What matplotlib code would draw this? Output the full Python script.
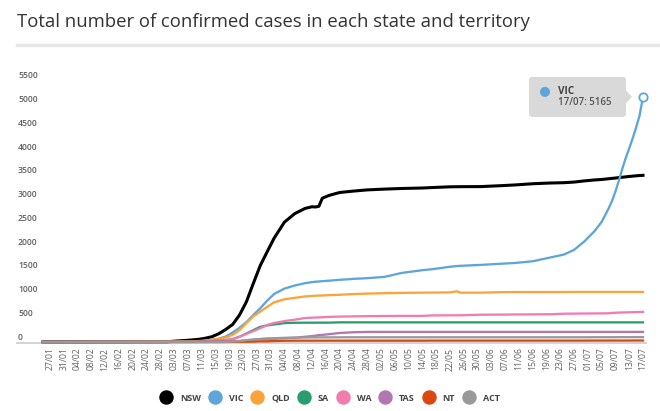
import matplotlib
matplotlib.use('Agg')
import matplotlib.pyplot as plt
import matplotlib.transforms as mtransforms
from matplotlib.lines import Line2D
from matplotlib.patches import FancyBboxPatch, Polygon, Circle
import pandas as pd

plt.rcParams['font.family'] = ['Open Sans', 'DejaVu Sans']

# Dados
datas = ['25/01', '01/03', '04/03', '07/03', '10/03', '12/03', '14/03', '16/03', '18/03', '20/03',
         '22/03', '24/03', '26/03', '28/03', '30/03', '01/04', '04/04', '07/04', '10/04', '12/04',
         '13/04', '14/04', '15/04', '17/04', '20/04', '24/04', '28/04', '03/05', '08/05', '14/05',
         '17/05', '22/05', '24/05', '25/05', '31/05', '06/06', '10/06', '15/06', '20/06', '24/06',
         '27/06', '30/06', '03/07', '05/07', '06/07', '07/07', '08/07', '09/07', '10/07', '11/07',
         '12/07', '13/07', '14/07', '15/07', '16/07', '17/07']

nsw = [3, 6, 22, 36, 55, 78, 112, 175, 265, 370,
       570, 850, 1235, 1610, 1900, 2185, 2525, 2705, 2815, 2850,
       2845, 2860, 3030, 3090, 3150, 3180, 3205, 3222, 3235, 3245,
       3255, 3270, 3272, 3273, 3275, 3295, 3310, 3335, 3350, 3357,
       3370, 3395, 3415, 3425, 3432, 3440, 3448, 3455, 3465, 3472,
       3480, 3488, 3495, 3502, 3508, 3512]
vic = [1, 9, 10, 11, 15, 27, 49, 71, 115, 200,
       300, 420, 570, 710, 870, 1010, 1125, 1190, 1240, 1262,
       1270, 1275, 1282, 1292, 1310, 1330, 1345, 1372, 1455, 1513,
       1535, 1585, 1600, 1605, 1625, 1650, 1666, 1701, 1779, 1842,
       1940, 2120, 2340, 2530, 2670, 2810, 2970, 3170, 3400, 3650,
       3880, 4080, 4290, 4520, 4770, 5165]
qld = [0, 9, 11, 15, 20, 27, 46, 68, 94, 150,
       250, 400, 540, 640, 740, 835, 900, 930, 960, 970,
       975, 978, 980, 988, 995, 1010, 1020, 1028, 1035, 1040,
       1042, 1045, 1068, 1040, 1040, 1050, 1053, 1053, 1053, 1053,
       1055, 1055, 1055, 1055, 1055, 1055, 1055, 1055, 1055, 1055,
       1055, 1055, 1055, 1055, 1055, 1055]
sa = [0, 3, 3, 7, 7, 16, 20, 30, 37, 60,
      111, 180, 250, 320, 350, 370, 398, 405, 407, 407,
      407, 408, 408, 408, 414, 414, 414, 414, 414, 414,
      414, 414, 414, 414, 414, 414, 414, 414, 414, 414,
      414, 414, 414, 414, 414, 414, 414, 414, 414, 414,
      414, 414, 414, 414, 414, 414]
wa = [0, 2, 3, 3, 4, 9, 18, 31, 45, 64,
      110, 170, 230, 290, 360, 400, 440, 470, 505, 512,
      515, 518, 522, 530, 535, 540, 545, 548, 550, 550,
      560, 562, 563, 563, 575, 577, 580, 582, 585, 596,
      598, 600, 602, 603, 604, 605, 612, 617, 620, 622,
      624, 626, 628, 630, 632, 634]
tas = [0, 1, 1, 1, 2, 5, 6, 7, 10, 15,
       22, 28, 47, 62, 66, 69, 80, 90, 110, 125,
       133, 145, 150, 165, 190, 205, 212, 213, 213, 213,
       213, 213, 213, 213, 213, 213, 213, 213, 213, 213,
       213, 213, 213, 213, 213, 213, 213, 213, 213, 213,
       213, 213, 213, 213, 213, 213]
nt = [0, 0, 1, 1, 1, 1, 1, 1, 1, 3,
      5, 6, 8, 15, 15, 21, 26, 28, 28, 28,
      28, 28, 28, 28, 28, 28, 28, 28, 28, 28,
      29, 29, 29, 29, 29, 29, 29, 29, 29, 29,
      29, 29, 30, 30, 30, 30, 30, 30, 30, 30,
      30, 30, 31, 31, 31, 31]
act = [0, 0, 0, 0, 0, 1, 1, 2, 3, 9,
       19, 39, 53, 62, 75, 80, 88, 92, 95, 97,
       97, 98, 98, 98, 99, 100, 100, 100, 100, 100,
       100, 100, 100, 100, 100, 100, 100, 100, 100, 100,
       100, 100, 101, 101, 101, 101, 101, 101, 102, 102,
       102, 102, 103, 103, 103, 103]

estados = ['NSW', 'VIC', 'QLD', 'SA', 'WA', 'TAS', 'NT', 'ACT']
series = [nsw, vic, qld, sa, wa, tas, nt, act]
cores = ['#000000', '#5DA5DA', '#FAA43A', '#2A9D6E', '#F17CB0', '#B276B2', '#D9480F', '#9A9A9A']

titulo = 'Total number of confirmed cases in each state and territory'

W, H = 660, 411
fx = lambda px: px / W
fy = lambda py: 1 - py / H

x = pd.to_datetime([d + '/2020' for d in datas], format='%d/%m/%Y')

fig = plt.figure(figsize=(W / 100, H / 100), dpi=100)
ax = fig.add_axes([fx(43), fy(342), fx(643) - fx(43), fy(81) - fy(342)])

for nome, vals, cor in zip(estados, series, cores):
    lw = 2.2 if nome == 'NSW' else 1.65
    ax.plot(x, vals, color=cor, linewidth=lw, solid_joinstyle='round', clip_on=False)

ax.set_xlim(x[0], x[-1])
ax.set_ylim(0, 5500)
for s in ax.spines.values():
    s.set_visible(False)

# eixo x
ticks = pd.date_range('2020-01-27', '2020-07-17', freq='4D')
ax.set_xticks(ticks)
ax.set_xticklabels([t.strftime('%d/%m') for t in ticks], rotation=90, fontsize=6.2, color='#606060')
ax.tick_params(axis='x', length=0, pad=4)
ax.set_yticks([])

# linha base
fig.add_artist(Line2D([fx(17), fx(646)], [fy(342.5), fy(342.5)], color='#d0d0d0', linewidth=1.3, zorder=0))

# rótulos do eixo y
trans = mtransforms.blended_transform_factory(fig.transFigure, ax.transData)
trans = mtransforms.offset_copy(trans, fig=fig, y=3.6, units='points')
for v in range(0, 5501, 500):
    ax.text(fx(18), v, str(v), transform=trans, fontsize=6.2, color='#606060',
            fontweight='semibold', ha='left', va='center', clip_on=False)

# título
fig.text(fx(17), fy(22), titulo, fontsize=13.3, color='#333333', ha='left', va='center')
fig.add_artist(Line2D([fx(17), 1], [fy(45), fy(45)], color='#e6e6e6', linewidth=2.4))

# marcador do último ponto VIC
ax.plot([x[-1]], [vic[-1]], marker='o', markersize=6, markerfacecolor='white',
        markeredgecolor=cores[1], markeredgewidth=1.3, clip_on=False, zorder=10)

# tooltip
px, py = ax.transData.transform((matplotlib.dates.date2num(x[-1]), vic[-1]))
caixa = FancyBboxPatch((px - 114, py - 20), 97, 40, boxstyle='round,pad=0,rounding_size=3',
                       facecolor='#d9d9d9', edgecolor='none', transform=None, zorder=11)
fig.add_artist(caixa)
seta = Polygon([(px - 17.5, py + 7), (px - 11, py), (px - 17.5, py - 7)], closed=True,
               facecolor='#d9d9d9', edgecolor='none', transform=None, zorder=11)
fig.add_artist(seta)
fig.add_artist(Circle((px - 98, py + 5), 5, facecolor=cores[1], edgecolor='none',
                      transform=None, zorder=12))
fig.text((px - 85) / W, (py + 5) / H, 'VIC', fontsize=7.2, fontweight='bold', color='#444444',
         ha='left', va='center', zorder=12)
fig.text((px - 85) / W, (py - 6) / H, f'{datas[-1]}: {vic[-1]}', fontsize=7,
         fontweight='semibold', color='#555555', ha='left', va='center', zorder=12)

# legenda
handles = [Line2D([], [], marker='o', linestyle='', markersize=9.4, color=c) for c in cores]
fig.legend(handles, estados, loc='center', bbox_to_anchor=(fx(330), fy(398)), ncol=8,
           frameon=False, handlelength=1.34, handletextpad=0.87, columnspacing=0.87,
           prop={'size': 6.5, 'weight': 'bold'}, labelcolor='#444444', borderaxespad=0)

fig.savefig('out.png', dpi=100)
